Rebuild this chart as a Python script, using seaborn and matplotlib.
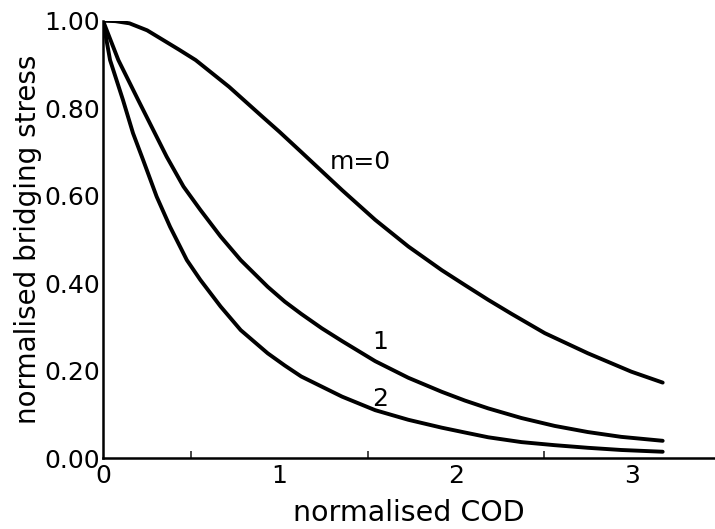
import matplotlib
matplotlib.use("Agg")
import matplotlib.pyplot as plt
import seaborn as sns
import pandas as pd
from matplotlib.ticker import FixedLocator

# ---- data ----
m0_x = [0.0, 0.07, 0.15, 0.25, 0.34, 0.43, 0.525, 0.714, 0.902, 1.0, 1.123, 1.354, 1.542, 1.73, 1.919,
        2.05, 2.183, 2.315, 2.503, 2.747, 2.993, 3.171]
m0_y = [1.0, 0.999, 0.994, 0.978, 0.956, 0.934, 0.91, 0.849, 0.781, 0.746, 0.70, 0.613, 0.545, 0.484,
        0.43, 0.396, 0.362, 0.330, 0.286, 0.240, 0.198, 0.173]

m1_x = [0.0, 0.087, 0.199, 0.285, 0.361, 0.456, 0.551, 0.666, 0.78, 0.933, 1.03, 1.123, 1.24, 1.354,
        1.542, 1.73, 1.919, 2.05, 2.183, 2.371, 2.559, 2.747, 2.936, 3.171]
m1_y = [1.0, 0.91, 0.819, 0.75, 0.689, 0.621, 0.568, 0.507, 0.453, 0.392, 0.358, 0.330, 0.297, 0.268,
        0.222, 0.184, 0.152, 0.132, 0.114, 0.092, 0.074, 0.060, 0.049, 0.040]

m2_x = [0.0, 0.04, 0.113, 0.170, 0.227, 0.304, 0.38, 0.475, 0.551, 0.666, 0.78, 0.933, 1.03, 1.123,
        1.354, 1.542, 1.73, 1.919, 2.05, 2.183, 2.371, 2.559, 2.747, 2.936, 3.171]
m2_y = [1.0, 0.91, 0.819, 0.743, 0.682, 0.598, 0.529, 0.453, 0.408, 0.347, 0.293, 0.240, 0.212, 0.187,
        0.141, 0.110, 0.088, 0.070, 0.059, 0.048, 0.037, 0.030, 0.024, 0.019, 0.015]

curve_labels = ["m=0", "1", "2"]
label_x = [1.456, 1.57, 1.57]
label_y = [0.677, 0.266, 0.135]

x_ticks = [0, 1, 2, 3]
x_minor = [0.5, 1.5, 2.5]
y_ticks = [0.0, 0.2, 0.4, 0.6, 0.8, 1.0]
y_ticklabels = ["0.00", "0.20", "0.40", "0.60", "0.80", "1.00"]

# ---- plot ----
sns.set_theme(style="white")
plt.rcParams['font.family'] = ['DejaVu Sans']

fig = plt.figure(figsize=(7.15, 5.29), dpi=100)
ax = fig.add_axes([103 / 715, 1 - 458.3 / 529, 1 - 103 / 715, (458.3 - 20.7) / 529])

series = [(m0_x, m0_y), (m1_x, m1_y), (m2_x, m2_y)]
for xs, ys in series:
    df = pd.DataFrame({"x": xs, "y": ys})
    sns.lineplot(data=df, x="x", y="y", ax=ax, color="black", lw=2.8,
                 sort=False, estimator=None)
for line in ax.lines:
    line.set_solid_joinstyle("round")
    line.set_solid_capstyle("round")

for t, lx, ly in zip(curve_labels, label_x, label_y):
    ax.text(lx, ly, t, ha="center", va="center", fontsize=18, color="black")

ax.set_xlim(0, (715 - 103) / 176.5)
ax.set_ylim(0, 1.0)

ax.set_xticks(x_ticks)
ax.set_xticklabels([str(v) for v in x_ticks])
ax.xaxis.set_minor_locator(FixedLocator(x_minor))
ax.set_yticks(y_ticks)
ax.set_yticklabels(y_ticklabels)

ax.tick_params(axis="both", which="major", direction="in", length=9, width=1.5,
               labelsize=18, colors="black")
ax.tick_params(axis="x", which="minor", direction="in", length=5, width=1.2,
               bottom=True)
ax.tick_params(axis="x", which="major", pad=4)
ax.tick_params(axis="y", which="major", pad=2)

for s in ["top", "right"]:
    ax.spines[s].set_visible(False)
for s in ["left", "bottom"]:
    ax.spines[s].set_color("black")
    ax.spines[s].set_linewidth(1.8)

ax.set_xlabel("normalised COD", fontsize=20.5, color="black", labelpad=8)
ax.set_ylabel("normalised bridging stress", fontsize=20, color="black", labelpad=2)
ax.grid(False)

fig.savefig("out.png", dpi=100)
